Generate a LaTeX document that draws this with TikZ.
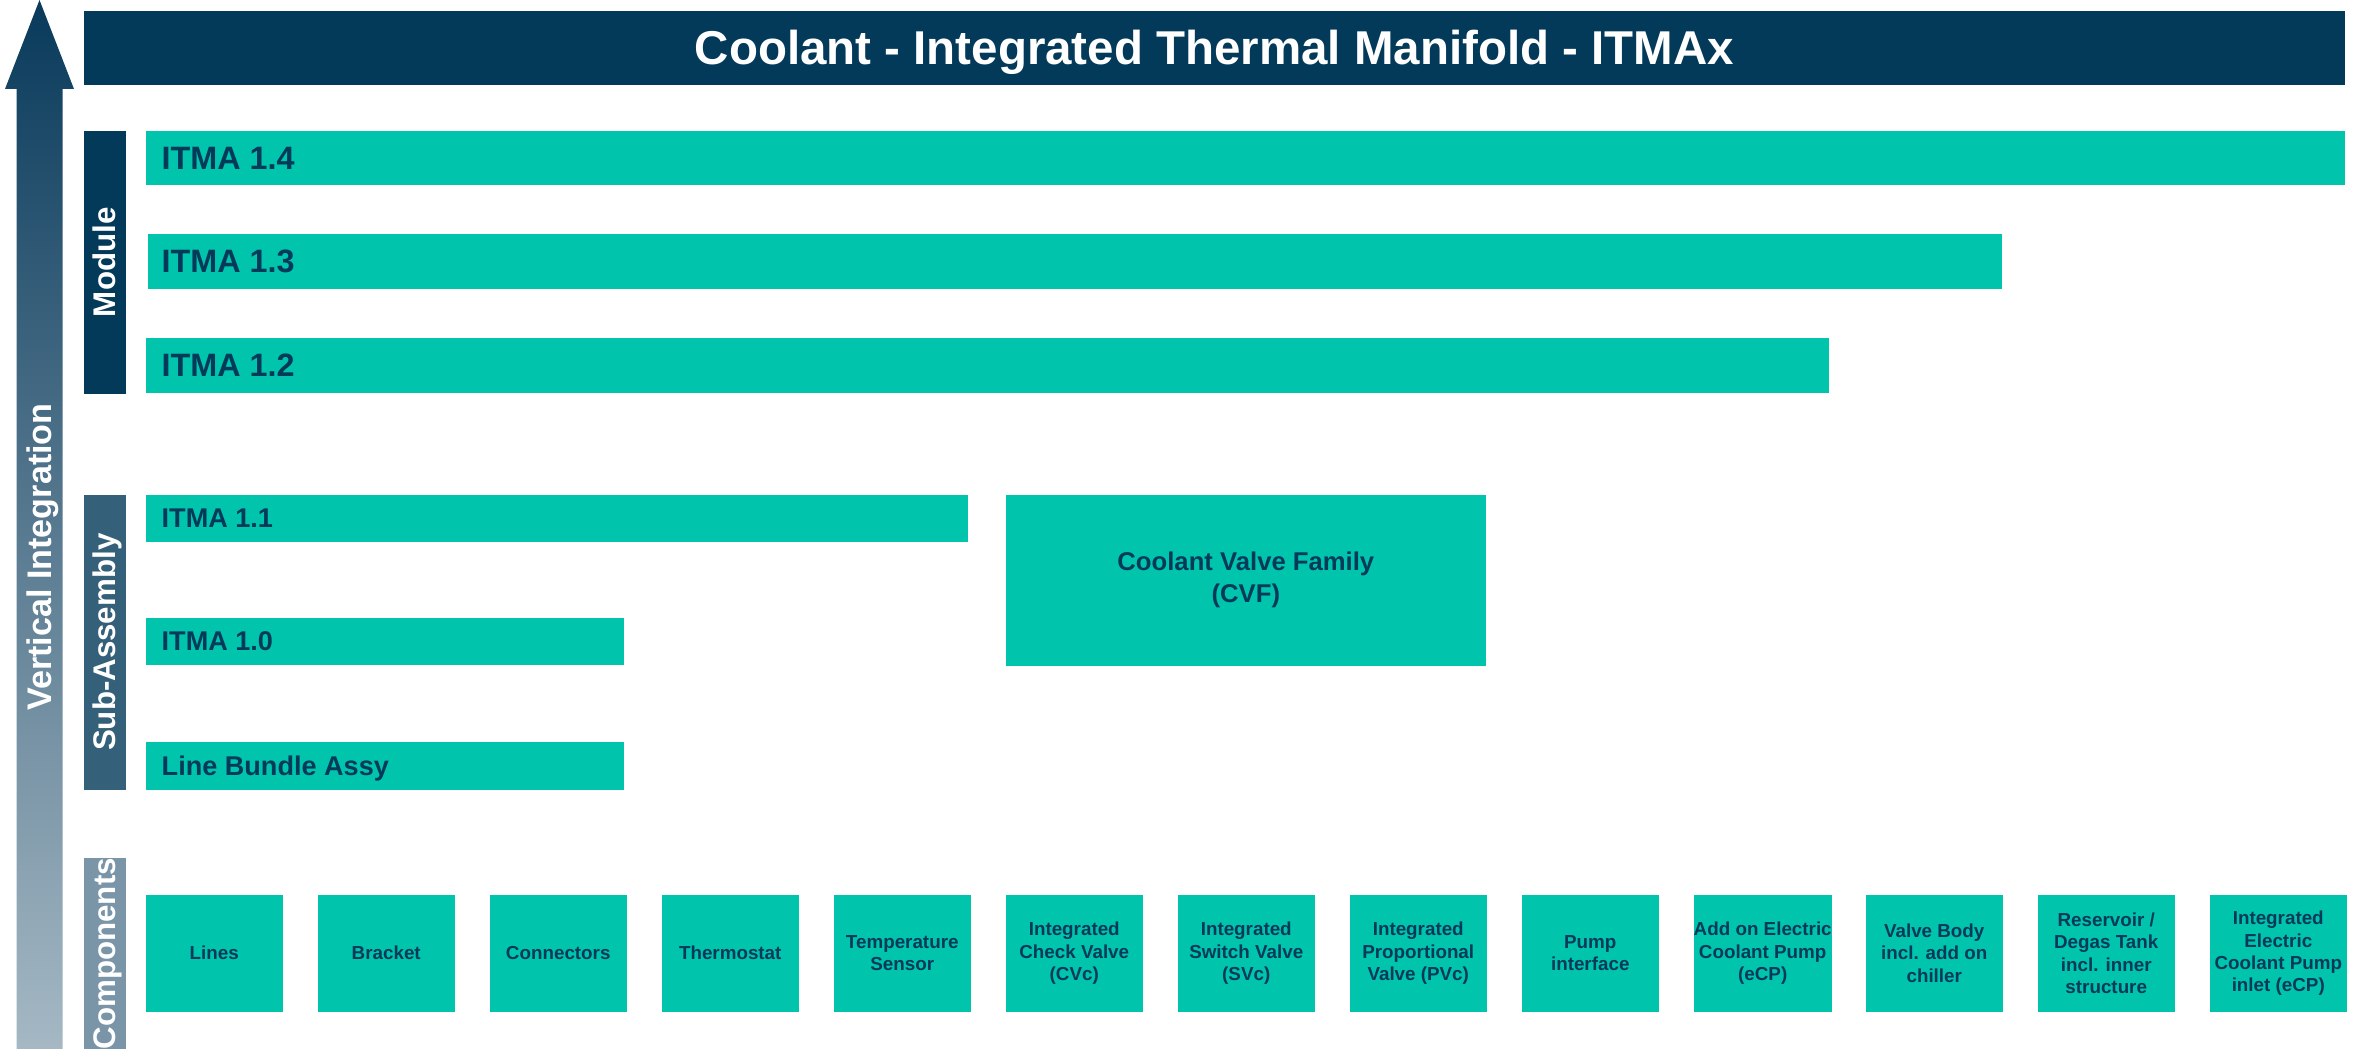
\documentclass[tikz,border=0pt]{standalone}
\usepackage{fontspec}
\setmainfont{Liberation Sans}
\usetikzlibrary{positioning}
\definecolor{navy}{HTML}{033A5A}
\definecolor{tealc}{HTML}{00C5AC}
\definecolor{subbar}{HTML}{346079}
\definecolor{compbar}{HTML}{7A95A8}
\definecolor{arrtop}{HTML}{093A5B}
\definecolor{arrbot}{HTML}{A5B8C4}
\begin{document}
\begin{tikzpicture}[x=0.01cm,y=-0.01cm,
  box/.style={fill=tealc, draw=none, anchor=north west, inner sep=0pt},
  sidebar/.style={draw=none, anchor=north west, inner sep=0pt, minimum width=0.42cm},
  sidetext/.style={rotate=90, text=white, inner sep=0pt, text height=6.3pt, text depth=0pt,
    font=\fontsize{8.9}{10}\selectfont\bfseries},
  modtext/.style={text=navy, inner sep=0pt, text height=6.5pt, text depth=0pt,
    font=\fontsize{9.2}{10}\selectfont\bfseries},
  subtext/.style={text=navy, inner sep=0pt, text height=5.5pt, text depth=0pt,
    font=\fontsize{7.7}{9}\selectfont\bfseries},
  comp/.style={box, minimum width=1.37cm, minimum height=1.17cm, align=center, text=navy,
    font=\fontsize{5.35}{6.3}\selectfont\bfseries}
]
\useasboundingbox (0,0) rectangle (2366,1049);

% vertical integration arrow
\shade[top color=arrtop, bottom color=arrbot]
  (39.5,0) -- (74,89) -- (62.5,89) -- (62.5,1049) -- (16.5,1049) -- (16.5,89) -- (5,89) -- cycle;
\node[rotate=90, text=white, inner sep=0pt, text height=6.8pt, text depth=0pt,
  font=\fontsize{9.7}{11}\selectfont\bfseries] (vint) at (40,557) {Vertical Integration};

% title
\node[fill=navy, anchor=north west, inner sep=0pt, minimum width=22.6cm, minimum height=0.74cm,
  text=white, text height=9.67pt, text depth=0pt, font=\fontsize{13.5}{16}\selectfont\bfseries]
  (title) at (83,10) {Coolant - Integrated Thermal Manifold - ITMAx};

% side bars
\node[sidebar, fill=navy, minimum height=2.63cm] (modbar) at (83,130) {};
\node[sidetext] (modlbl) at (modbar.center) {Module};
\node[sidebar, fill=subbar, minimum height=2.95cm] (subbarn) at (83,494) {};
\node[sidetext] (sublbl) at (subbarn.center) {Sub-Assembly};
\node[sidebar, fill=compbar, minimum height=1.92cm] (compbarn) at (83,857) {};
\node[sidetext] (complbl) at (compbarn.center) {Components};

% module rows
\node[box, minimum width=21.98cm, minimum height=0.54cm] (i14) at (145,130) {};
\node[modtext, right=0.16cm of i14.west] (l14) {ITMA 1.4};
\node[box, minimum width=18.53cm, minimum height=0.55cm] (i13) at (147,233) {};
\node[modtext, right=0.14cm of i13.west] (l13) {ITMA 1.3};
\node[box, minimum width=16.82cm, minimum height=0.55cm] (i12) at (145,337) {};
\node[modtext, right=0.16cm of i12.west] (l12) {ITMA 1.2};

% sub-assembly rows
\node[box, minimum width=8.22cm, minimum height=0.47cm] (i11) at (145,494) {};
\node[subtext, right=0.16cm of i11.west] (l11) {ITMA 1.1};
\node[box, minimum width=4.78cm, minimum height=0.47cm] (i10) at (145,617) {};
\node[subtext, right=0.16cm of i10.west] (l10) {ITMA 1.0};
\node[box, minimum width=4.78cm, minimum height=0.48cm] (lba) at (145,741) {};
\node[subtext, right=0.16cm of lba.west] (llba) {Line Bundle Assy};

\node[box, minimum width=4.8cm, minimum height=1.71cm, align=center, text=navy,
  font=\fontsize{7.3}{9.1}\selectfont\bfseries] (cvf) at (1005,494) {Coolant Valve Family\\(CVF)};

% components
\foreach \i/\t in {1/Lines, 2/Bracket, 3/Connectors, 4/Thermostat,
  5/{Temperature\\Sensor}, 6/{Integrated\\Check Valve\\(CVc)},
  7/{Integrated\\Switch Valve\\(SVc)}, 8/{Integrated\\Proportional\\Valve (PVc)},
  9/{Pump\\interface}, 10/{Add on Electric\\Coolant Pump\\(eCP)},
  11/{Valve Body\\incl. add on\\chiller}, 12/{Reservoir /\\Degas Tank\\incl. inner\\structure},
  13/{Integrated\\Electric\\Coolant Pump\\inlet (eCP)}}
{
  \node[comp] (c\i) at ({145+(\i-1)*172},894) {\t};
}
\end{tikzpicture}
\end{document}
